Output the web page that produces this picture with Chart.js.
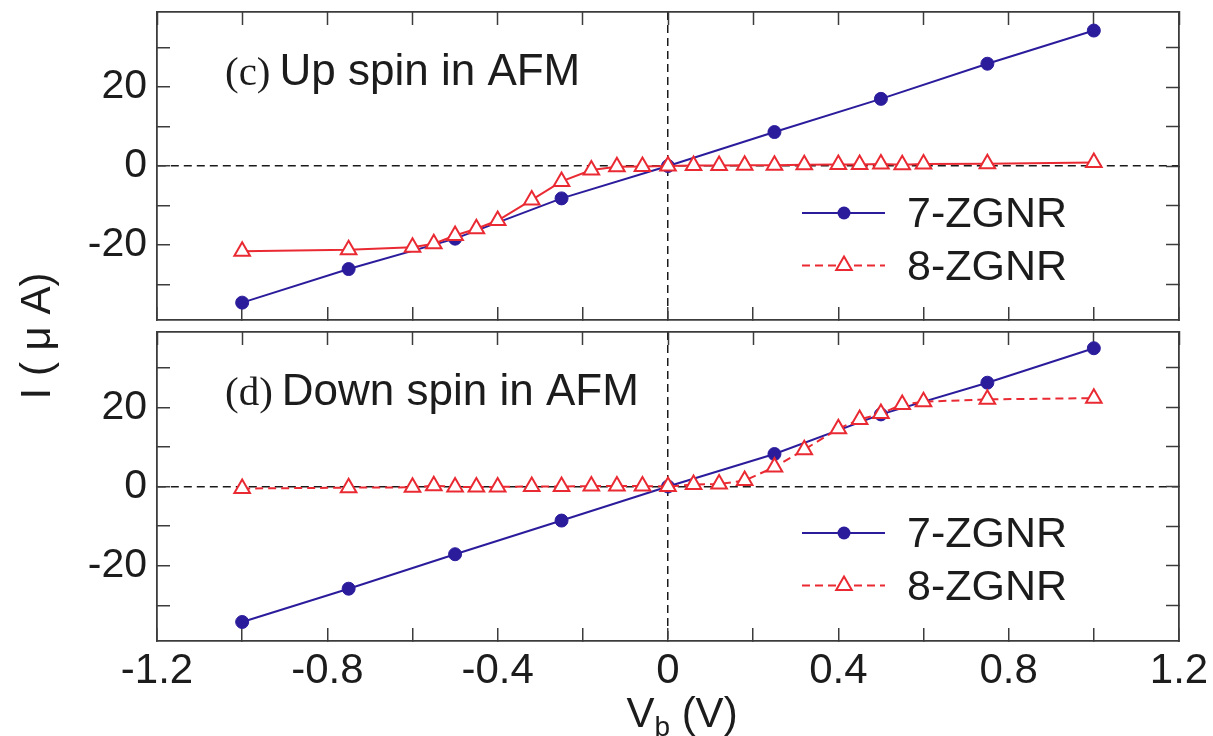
<!DOCTYPE html>
<html>
<head>
<meta charset="utf-8">
<title>I-V curves, AFM</title>
<script src="https://cdn.jsdelivr.net/npm/chart.js@4.4.1/dist/chart.umd.min.js"></script>
<style>
  html, body { margin: 0; padding: 0; background: #fff; }
  #quadro { position: relative; width: 1213px; height: 736px; }
  #quadro canvas { position: absolute; left: 0; top: 0; }
</style>
</head>
<body>
<div id="quadro">
  <canvas id="painelBaixo" width="1213" height="736"></canvas>
  <canvas id="painelCima" width="1213" height="736"></canvas>
</div>
<script>
// bias voltages (V)
const biasCoarse = [-1, -0.75, -0.5, -0.25, 0, 0.25, 0.5, 0.75, 1];
const biasFine = [-1, -0.75, -0.6, -0.55, -0.5, -0.45, -0.4, -0.32, -0.25, -0.18, -0.12, -0.06, 0,
                  0.06, 0.12, 0.18, 0.25, 0.32, 0.4, 0.45, 0.5, 0.55, 0.6, 0.75, 1];

// currents (uA)
const upSpin7 = [-34.6, -26.1, -18.4, -8.2, 0, 8.6, 17.0, 25.9, 34.3];
const upSpin8 = [-21.6, -21.2, -20.6, -19.7, -17.6, -15.9, -13.8, -8.6, -3.9, -1.0, -0.2, -0.1, 0,
                 0.1, 0.1, 0.2, 0.2, 0.3, 0.4, 0.4, 0.5, 0.3, 0.5, 0.6, 0.9];
const downSpin7 = [-34.2, -25.8, -17.1, -8.6, 0, 8.2, 18.2, 26.2, 34.9];
const downSpin8 = [-0.5, -0.3, -0.2, 0.2, -0.1, -0.1, -0.1, 0, 0, 0.1, 0.1, 0.1, 0,
                   0.5, 0.6, 1.5, 4.9, 9.3, 14.6, 16.9, 18.4, 20.7, 21.4, 22.0, 22.3];

const seriesNames = ['7-ZGNR', '8-ZGNR'];
const xTickLabels = ['-1.2', '-0.8', '-0.4', '0', '0.4', '0.8', '1.2'];
const yTickLabels = ['-20', '0', '20'];

const BLUE = '#2b1c9c';
const RED = '#ea2a33';
const FRAME = '#3c3c3c';
const TEXT = '#1c1c1c';
const SANS = '"Liberation Sans", Arial, Helvetica, sans-serif';
const SERIF = '"Liberation Serif", "Times New Roman", serif';

const pares = (xs, ys) => xs.map((x, i) => ({ x: x, y: ys[i] }));

const fmtX = v => (Math.abs(v) < 1e-9 ? '0' : v.toFixed(1));

// dashed line only on the zero tick
const zeroLine = c => (c.tick && Math.abs(c.tick.value) < 1e-9) ? '#1a1a1a' : 'rgba(0,0,0,0)';

// fixed axis sizes, no extra room for edge labels
const fixar = (w, h) => ax => {
    if (w !== null) ax.width = w;
    if (h !== null) ax.height = h;
    ax.paddingLeft = ax.paddingRight = ax.paddingTop = ax.paddingBottom = 0;
};

// tag, title, legend and (on the lower panel) axis titles
const enfeites = {
    id: 'enfeites',
    afterDatasetsDraw(chart, args, o) {
        const { ctx, chartArea: a } = chart;
        ctx.save();
        ctx.fillStyle = TEXT;
        ctx.textBaseline = 'alphabetic';
        ctx.textAlign = 'left';

        const x0 = a.left + 68, y0 = a.top + 73;
        ctx.font = '41px ' + SERIF;
        ctx.fillText(o.tag, x0, y0);
        const w = ctx.measureText(o.tag).width;
        ctx.font = '44px ' + SANS;
        ctx.fillText(o.title, x0 + w + 9, y0);

        chart.data.datasets.forEach((ds, i) => {
            const ly = a.top + 201 + i * 52.5;
            const lx = a.left + 645, rx = a.left + 728, mx = a.left + 687;
            ctx.save();
            ctx.strokeStyle = ds.borderColor;
            ctx.lineWidth = ds.borderWidth;
            ctx.setLineDash(ds.legendDash || []);
            ctx.beginPath();
            ctx.moveTo(lx, ly);
            ctx.lineTo(rx, ly);
            ctx.stroke();
            ctx.setLineDash([]);
            if (ds.pointStyle === 'triangle') {
                const r = ds.pointRadius;
                ctx.beginPath();
                for (let k = 0; k < 3; k++) {
                    const ang = k * 2 * Math.PI / 3;
                    const px = mx + Math.sin(ang) * r, py = ly - Math.cos(ang) * r;
                    if (k === 0) ctx.moveTo(px, py); else ctx.lineTo(px, py);
                }
                ctx.closePath();
                ctx.fillStyle = ds.pointBackgroundColor;
                ctx.fill();
                ctx.lineWidth = ds.pointBorderWidth;
                ctx.strokeStyle = ds.pointBorderColor;
                ctx.stroke();
            } else {
                ctx.beginPath();
                ctx.arc(mx, ly, ds.pointRadius, 0, Math.PI * 2);
                ctx.fillStyle = ds.pointBackgroundColor;
                ctx.fill();
            }
            ctx.restore();
            ctx.font = '43px ' + SANS;
            ctx.fillText(ds.label, a.left + 750, ly + 14);
        });

        if (o.axisTitles) {
            // x title with subscript b
            const big = '42px ' + SANS, small = '28px ' + SANS;
            ctx.font = big;
            const wV = ctx.measureText('V').width;
            const wRest = ctx.measureText(' (V)').width;
            ctx.font = small;
            const wb = ctx.measureText('b').width;
            const total = wV + wb + wRest;
            const cx = chart.scales.x.getPixelForValue(0) + 14;
            let tx = cx - total / 2;
            const by = a.bottom + 86;
            ctx.font = big;
            ctx.fillText('V', tx, by);
            tx += wV;
            ctx.font = small;
            ctx.fillText('b', tx, by + 9);
            tx += wb;
            ctx.font = big;
            ctx.fillText(' (V)', tx, by);

            // y title spans both panels
            ctx.save();
            ctx.translate(50, a.top + 4);
            ctx.rotate(-Math.PI / 2);
            ctx.textAlign = 'center';
            ctx.font = '42px ' + SANS;
            ctx.fillText('I ( \u03bc A)', 0, 0);
            ctx.restore();
        }
        ctx.restore();
    }
};

function montarPainel(canvasId, cfg) {
    const tick = { tickColor: FRAME, tickLength: -13, tickWidth: 1.5 };
    const borda = { color: FRAME, width: 1.8 };
    const eixoExtra = (pos, vals) => ({
        type: 'linear', position: pos, min: vals[0], max: vals[1],
        ticks: { display: false, stepSize: vals[2], includeBounds: false, autoSkip: false },
        grid: Object.assign({ drawOnChartArea: false }, tick),
        border: borda,
        afterFit: pos === 'top' ? fixar(null, 0) : fixar(0, null)
    });

    return new Chart(document.getElementById(canvasId), {
        type: 'scatter',
        data: {
            datasets: [{
                label: seriesNames[0],
                data: pares(biasCoarse, cfg.s7),
                showLine: true,
                order: 1,
                borderColor: BLUE,
                borderWidth: 2,
                pointStyle: 'circle',
                pointRadius: 6.5,
                pointHoverRadius: 6.5,
                pointBackgroundColor: BLUE,
                pointBorderColor: BLUE,
                pointBorderWidth: 1,
                legendDash: []
            }, {
                label: seriesNames[1],
                data: pares(biasFine, cfg.s8),
                showLine: true,
                order: 0,
                borderColor: RED,
                borderWidth: 2,
                borderDash: cfg.dash8,
                pointStyle: 'triangle',
                pointRadius: 9,
                pointHoverRadius: 9,
                pointBackgroundColor: '#ffffff',
                pointBorderColor: RED,
                pointBorderWidth: 2,
                legendDash: [8, 5]
            }]
        },
        options: {
            responsive: false,
            animation: false,
            events: [],
            layout: {
                padding: { left: 0, right: 34, top: cfg.top, bottom: cfg.showX ? 0 : 736 - cfg.bottom }
            },
            scales: {
                x: {
                    type: 'linear', position: 'bottom', min: -1.2, max: 1.2,
                    ticks: {
                        display: cfg.showX, stepSize: 0.2, autoSkip: false, maxRotation: 0,
                        padding: 18, color: TEXT, font: { family: SANS, size: 42 },
                        callback: v => (xTickLabels.includes(fmtX(v)) ? fmtX(v) : '')
                    },
                    grid: Object.assign({ color: zeroLine, lineWidth: 1.5 }, tick),
                    border: Object.assign({ dash: [8, 5] }, borda),
                    afterFit: fixar(null, cfg.showX ? 736 - cfg.bottom : 0)
                },
                y: {
                    type: 'linear', position: 'left', min: -39, max: 39,
                    ticks: {
                        stepSize: 10, includeBounds: false, autoSkip: false, padding: 23, color: TEXT,
                        font: { family: SANS, size: 41 },
                        callback: v => (yTickLabels.includes(String(v)) ? String(v) : '')
                    },
                    grid: Object.assign({ color: zeroLine, lineWidth: 1.5 }, tick),
                    border: Object.assign({ dash: [8, 5] }, borda),
                    afterFit: fixar(157, null)
                },
                xt: eixoExtra('top', [-1.2, 1.2, 0.2]),
                yr: eixoExtra('right', [-39, 39, 10])
            },
            plugins: {
                legend: { display: false },
                tooltip: { enabled: false },
                enfeites: { tag: cfg.tag, title: cfg.title, axisTitles: cfg.showX }
            }
        },
        plugins: [enfeites]
    });
}

montarPainel('painelCima', {
    tag: '(c)', title: 'Up spin in AFM',
    s7: upSpin7, s8: upSpin8, dash8: [],
    top: 12, bottom: 320, showX: false
});

montarPainel('painelBaixo', {
    tag: '(d)', title: 'Down spin in AFM',
    s7: downSpin7, s8: downSpin8, dash8: [8, 5],
    top: 332, bottom: 641, showX: true
});
</script>
</body>
</html>
